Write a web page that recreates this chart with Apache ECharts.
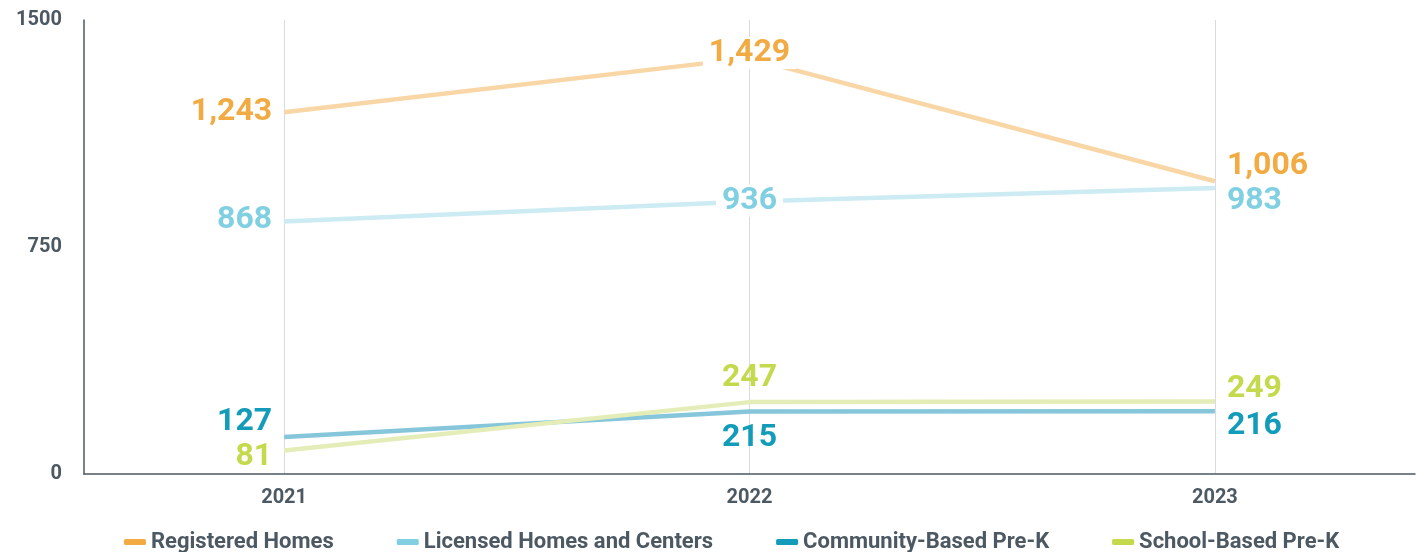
<!DOCTYPE html>
<html>
<head>
<meta charset="utf-8">
<script src="https://cdn.jsdelivr.net/npm/echarts@6/dist/echarts.min.js"></script>
<style>
  html, body { margin: 0; padding: 0; background: #fff; }
  #chart { width: 1424px; height: 552px; }
</style>
</head>
<body>
<div id="chart"></div>
<script>
// data
const years = [2021, 2022, 2023];
const yTickLabels = ['0', '750', '1500'];
const seriesNames = ['Registered Homes', 'Licensed Homes and Centers', 'Community-Based Pre-K', 'School-Based Pre-K'];
const registered = [1243, 1429, 1006];
const licensed = [868, 936, 983];
const community = [127, 215, 216];
const school = [81, 247, 249];

const textColor = '#4c5862';
const fontFam = 'Roboto, "DejaVu Sans", sans-serif';
// strong colour for labels/legend, pale colour for the line itself
const strong = ['#f2ab43', '#80d0e2', '#129cba', '#c4d94b'];
const pale = ['#f9d6a6', '#cdebf3', '#86c6da', '#e4edb8'];

// label placement per point: [position, dx, dy, white background]
const labelPlace = [
  [['left', 0, 0], ['inside', 0, -5, true], ['right', 0, -15]],
  [['left', 0, -1], ['inside', 0, -1, true], ['right', 0, 13]],
  [['left', 0, -15], ['inside', 0, 27], ['right', 0, 15]],
  [['left', 0, 7], ['inside', 0, -24], ['right', 0, -13]]
];

function fmt(v) {
  return v.toLocaleString('en-US');
}

function makeSeries(idx, values) {
  return {
    name: seriesNames[idx],
    type: 'line',
    symbol: 'circle',
    symbolSize: 0,
    showSymbol: true,
    itemStyle: { color: strong[idx] },
    lineStyle: { color: pale[idx], width: 4.5 },
    emphasis: { disabled: true },
    z: 3,
    data: values.map((v, i) => {
      const p = labelPlace[idx][i];
      return {
        value: [years[i], v],
        label: {
          show: true,
          position: p[0],
          distance: 12,
          offset: [p[1], p[2]],
          color: strong[idx],
          fontFamily: fontFam,
          fontWeight: 'bold',
          fontSize: 32,
          backgroundColor: p[3] ? '#fff' : 'transparent',
          padding: p[3] ? [0, 6] : 0,
          formatter: () => fmt(v)
        }
      };
    })
  };
}

const myChart = echarts.init(document.getElementById('chart'));
const option = {
  animation: false,
  grid: { left: 84, right: 9, top: 20, bottom: 78 },
  legend: {
    bottom: -6,
    left: 119,
    icon: 'roundRect',
    itemWidth: 22,
    itemHeight: 6,
    itemGap: 63,
    textStyle: { color: textColor, fontFamily: fontFam, fontSize: 22, fontWeight: 'bold' },
    data: seriesNames
  },
  xAxis: {
    type: 'value',
    min: 2020.57,
    max: 2023.43,
    axisLine: { show: true, lineStyle: { color: textColor, width: 1.5 } },
    axisTick: { show: false, customValues: years },
    axisLabel: {
      customValues: years,
      color: textColor,
      fontFamily: fontFam,
      fontWeight: 'bold',
      fontSize: 20,
      margin: 14,
      formatter: v => String(Math.round(v))
    },
    splitLine: { show: true, lineStyle: { color: '#d7dbe0', width: 1 } }
  },
  yAxis: {
    type: 'value',
    min: 0,
    max: 1560,
    interval: 780,
    axisLine: { show: true, lineStyle: { color: textColor, width: 1.5 } },
    axisTick: { show: false },
    splitLine: { show: false },
    axisLabel: {
      color: textColor,
      fontFamily: fontFam,
      fontWeight: 'bold',
      fontSize: 20,
      margin: 22,
      formatter: (v, i) => yTickLabels[Math.round(v / 780)]
    }
  },
  series: [
    makeSeries(0, registered),
    makeSeries(1, licensed),
    makeSeries(2, community),
    makeSeries(3, school)
  ]
};
myChart.setOption(option);
</script>
</body>
</html>
